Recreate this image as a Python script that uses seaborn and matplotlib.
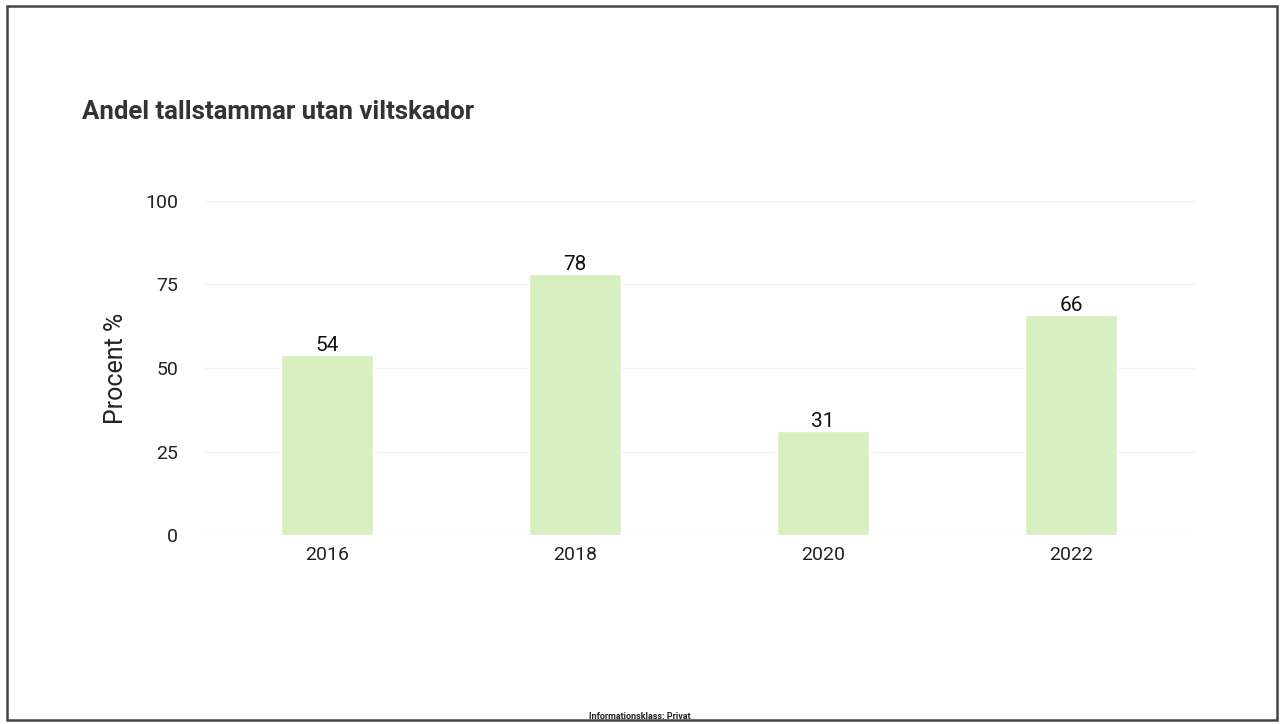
import matplotlib
matplotlib.use("Agg")
import matplotlib.pyplot as plt
import seaborn as sns
import pandas as pd
from matplotlib.patches import Rectangle

years = ["2016", "2018", "2020", "2022"]
andel = [54, 78, 31, 66]
yticks = [0, 25, 50, 75, 100]

sns.set_theme(style="white")
plt.rcParams["font.family"] = ["Roboto", "DejaVu Sans"]

df = pd.DataFrame({"year": years, "andel": andel})

fig = plt.figure(figsize=(12.8, 7.24), dpi=100)
ax = fig.add_axes([0.1586, 0.261, 0.775, 0.4614])

sns.barplot(data=df, x="year", y="andel", color="#d7efc1", saturation=1,
            width=0.37, ax=ax, zorder=2)

ax.set_ylim(0, 100)
ax.set_yticks(yticks)
ax.yaxis.grid(True, color="#f4f4f4", linewidth=1, zorder=0)
ax.set_axisbelow(True)
for s in ax.spines.values():
    s.set_visible(False)
ax.tick_params(axis="both", length=0, labelsize=14, colors="#222222")
ax.tick_params(axis="y", pad=18)
ax.tick_params(axis="x", pad=8)
ax.set_xlabel("")
ax.set_ylabel("Procent %", fontsize=18, color="#222222", labelpad=12)

for c in ax.containers:
    ax.bar_label(c, fontsize=15, color="#111111", padding=0)

fig.text(0.064, 0.845, "Andel tallstammar utan viltskador", fontsize=18.5,
         fontweight="bold", color="#333333", ha="left", va="center")
fig.text(0.5, 0.011, "Informationsklass: Privat", fontsize=6.5,
         fontweight="bold", color="#222222", ha="center", va="center")

fig.patches.append(Rectangle((0.0055, 0.006), 0.9925, 0.986, transform=fig.transFigure,
                             fill=False, edgecolor="#444444", linewidth=1.8))

fig.savefig("out.png", dpi=100)
